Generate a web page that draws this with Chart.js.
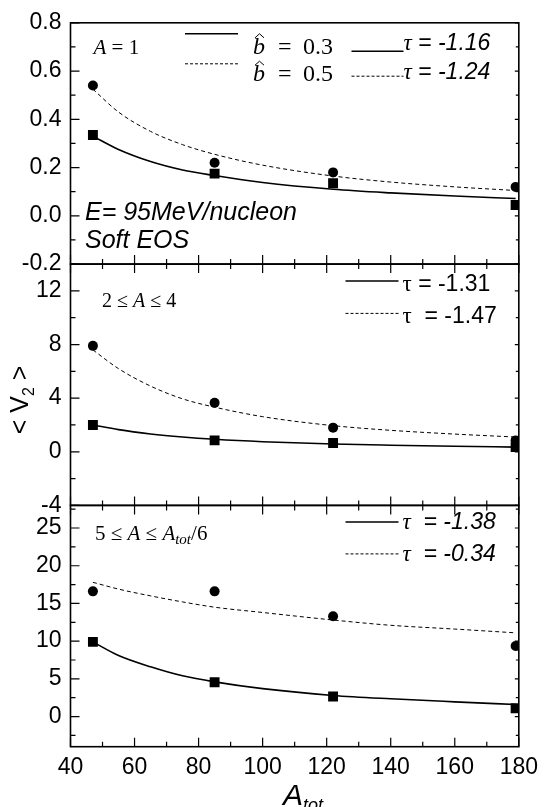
<!DOCTYPE html>
<html>
<head>
<meta charset="utf-8">
<title>V2 vs Atot</title>
<script src="https://cdn.jsdelivr.net/npm/chart.js"></script>
<style>
  html, body { margin: 0; padding: 0; background: #fff; }
  #wrap { position: relative; width: 545px; height: 807px; }
</style>
</head>
<body>
<div id="wrap"><canvas id="c" width="545" height="807"></canvas></div>
<script>
// A_tot of the four systems
const aTot = [47, 85, 122, 179];

// A = 1  (circles: b = 0.5, squares: b = 0.3)
const p1Circle = [0.54, 0.22, 0.18, 0.12];
const p1Square = [0.335, 0.175, 0.135, 0.045];
// 2 <= A <= 4
const p2Circle = [7.9, 3.65, 1.8, 0.85];
const p2Square = [2.0, 0.85, 0.65, 0.35];
// 5 <= A <= Atot/6
const p3Circle = [16.6, 16.6, 13.3, 9.35];
const p3Square = [9.9, 4.55, 2.65, 1.1];

// fit curves
const fitX = [47, 55, 65, 75, 85, 100, 122, 140, 160, 179];
const p1Solid = [0.33, 0.275, 0.225, 0.19, 0.167, 0.138, 0.11, 0.095, 0.082, 0.072];
const p1Dash = [0.525, 0.43, 0.35, 0.295, 0.255, 0.21, 0.165, 0.14, 0.12, 0.105];
const p2Solid = [2.0, 1.65, 1.33, 1.1, 0.93, 0.75, 0.58, 0.49, 0.41, 0.35];
const p2Dash = [7.6, 6.2, 4.9, 3.95, 3.33, 2.62, 1.95, 1.6, 1.32, 1.1];
const p3Solid = [9.9, 8.1, 6.6, 5.4, 4.6, 3.7, 2.8, 2.35, 1.95, 1.6];
const p3Dash = [17.8, 16.9, 16.0, 15.2, 14.5, 13.8, 12.8, 12.1, 11.6, 11.1];

// tick labels
const xTicks = [40, 60, 80, 100, 120, 140, 160, 180];
const y1Ticks = [-0.2, 0, 0.2, 0.4, 0.6, 0.8];
const y2Ticks = [-4, 0, 4, 8, 12];
const y3Ticks = [0, 5, 10, 15, 20, 25];

const ink = '#000';
const SANS = '"Liberation Sans", Arial, sans-serif';
const SERIF = '"Liberation Serif", "Times New Roman", serif';

const pts = (xs, ys) => xs.map((x, i) => ({ x: x, y: ys[i] }));

function panel(axis, circles, squares, solid, dashed) {
  return [
    { data: pts(aTot, circles), yAxisID: axis, showLine: false, pointStyle: 'circle',
      pointRadius: 5, backgroundColor: ink, borderColor: ink, borderWidth: 0 },
    { data: pts(aTot, squares), yAxisID: axis, showLine: false, pointStyle: 'rect',
      pointRadius: 7, backgroundColor: ink, borderColor: ink, borderWidth: 0 },
    { data: pts(fitX, solid), yAxisID: axis, borderColor: ink, borderWidth: 1.6,
      pointRadius: 0, fill: false, cubicInterpolationMode: 'monotone' },
    { data: pts(fitX, dashed), yAxisID: axis, borderColor: ink, borderWidth: 1,
      borderDash: [4, 3], pointRadius: 0, fill: false, cubicInterpolationMode: 'monotone' },
  ];
}

function yAxis(ticks, lo, hi, fmt) {
  return {
    type: 'linear', position: 'left', stack: 'v', stackWeight: 1, min: lo, max: hi,
    grid: { display: false, drawTicks: false }, border: { display: false },
    afterBuildTicks: s => { s.ticks = ticks.map(v => ({ value: v })); },
    afterFit: s => { s.width = 70.5; },
    ticks: { color: ink, padding: 9, autoSkip: false, font: { family: SANS, size: 23 },
      callback: fmt || (v => String(v)) },
  };
}

function minors(ticks, lo, hi) {
  const step = ticks[1] - ticks[0], out = [];
  for (let v = ticks[0] - step * 1.5; v <= hi + 1e-9; v += step) {
    if (v >= lo - 1e-9) out.push(v);
  }
  return out;
}

// box round each panel, with inward ticks
const frame = {
  id: 'frame',
  afterDatasetsDraw(chart) {
    const ctx = chart.ctx, xs = chart.scales.x;
    const seg = (a, b, c, d) => { ctx.moveTo(a, b); ctx.lineTo(c, d); };
    const xMinor = minors(xTicks, 40, 180);
    [['y1', y1Ticks], ['y2', y2Ticks], ['y3', y3Ticks]].forEach(([id, tk], k) => {
      const ys = chart.scales[id];
      ctx.save();
      ctx.strokeStyle = ink;
      ctx.lineWidth = 1.2;
      ctx.beginPath();
      tk.forEach(v => {
        const p = ys.getPixelForValue(v);
        seg(xs.left, p, xs.left + 9, p);
        seg(xs.right, p, xs.right - 4, p);
      });
      minors(tk, ys.min, ys.max).forEach(v => {
        const p = ys.getPixelForValue(v);
        seg(xs.left, p, xs.left + 5, p);
        seg(xs.right, p, xs.right - 3, p);
      });
      xTicks.forEach(v => {
        const p = xs.getPixelForValue(v);
        seg(p, ys.bottom, p, ys.bottom - 9);
        if (k > 0) seg(p, ys.top, p, ys.top + 9);
      });
      xMinor.forEach(v => {
        const p = xs.getPixelForValue(v);
        seg(p, ys.bottom, p, ys.bottom - 5);
        if (k > 0) seg(p, ys.top, p, ys.top + 5);
      });
      ctx.stroke();
      ctx.lineWidth = 1.6;
      ctx.strokeRect(xs.left, ys.top, xs.right - xs.left, ys.bottom - ys.top);
      ctx.restore();
    });
  }
};

function runs(ctx, x, y, parts) {
  for (const [t, font, dy] of parts) {
    ctx.font = font;
    ctx.fillText(t, x, y + (dy || 0));
    x += ctx.measureText(t).width;
  }
  return x;
}

function hline(ctx, x0, x1, y, dash, w) {
  ctx.save();
  ctx.strokeStyle = ink;
  ctx.lineWidth = w;
  ctx.setLineDash(dash || []);
  ctx.beginPath();
  ctx.moveTo(x0, y);
  ctx.lineTo(x1, y);
  ctx.stroke();
  ctx.restore();
}

function bhat(ctx, x, y, val) {
  ctx.font = `italic 24px ${SERIF}`;
  ctx.fillText('b', x, y);
  ctx.save();
  ctx.lineWidth = 1;
  ctx.strokeStyle = ink;
  ctx.beginPath();
  ctx.moveTo(x + 2, y - 16);
  ctx.lineTo(x + 6.5, y - 20);
  ctx.lineTo(x + 11, y - 16);
  ctx.stroke();
  ctx.restore();
  ctx.font = `24px ${SERIF}`;
  ctx.fillText('=', x + 25, y);
  ctx.fillText(val, x + 50, y);
}

const notes = {
  id: 'notes',
  afterDraw(chart) {
    const ctx = chart.ctx, L = chart.scales.x.left;
    const T1 = chart.scales.y1.top, T2 = chart.scales.y2.top, T3 = chart.scales.y3.top;
    ctx.save();
    ctx.fillStyle = ink;
    ctx.textBaseline = 'alphabetic';
    ctx.textAlign = 'left';

    // top panel
    runs(ctx, L + 23, T1 + 31.5, [['A', `italic 21px ${SERIF}`], [' = 1', `21px ${SERIF}`]]);
    hline(ctx, L + 114.5, L + 167.5, T1 + 11, null, 1.5);
    hline(ctx, L + 114.5, L + 167.5, T1 + 41, [3, 2], 1);
    bhat(ctx, L + 182.5, T1 + 31, '0.3');
    bhat(ctx, L + 182.5, T1 + 58.4, '0.5');
    hline(ctx, L + 281, L + 333, T1 + 28.4, null, 1.5);
    runs(ctx, L + 333, T1 + 26.7, [['τ', `italic 23px ${SERIF}`], [' = -1.16', `italic 23px ${SANS}`]]);
    hline(ctx, L + 281, L + 333, T1 + 53.4, [3, 2], 1);
    runs(ctx, L + 333, T1 + 55.7, [['τ', `italic 23px ${SERIF}`], [' = -1.24', `italic 23px ${SANS}`]]);
    ctx.font = `italic 25px ${SANS}`;
    ctx.fillText('E= 95MeV/nucleon', L + 14.5, T1 + 196.7);
    ctx.fillText('Soft EOS', L + 14.5, T1 + 224.7);

    // middle panel
    runs(ctx, L + 31.5, T2 + 43, [['2 ≤ ', `20px ${SERIF}`], ['A', `italic 20px ${SERIF}`], [' ≤ 4', `20px ${SERIF}`]]);
    hline(ctx, L + 275, L + 328, T2 + 17, null, 1.5);
    runs(ctx, L + 332, T2 + 27, [['τ', `23px ${SERIF}`], [' = -1.31', `23px ${SANS}`]]);
    hline(ctx, L + 275, L + 328, T2 + 49.3, [3, 2], 1);
    runs(ctx, L + 332, T2 + 59, [['τ', `23px ${SERIF}`], ['  = -1.47', `23px ${SANS}`]]);

    // bottom panel
    runs(ctx, L + 24.5, T3 + 35, [
      ['5 ≤ ', `21px ${SERIF}`], ['A', `italic 21px ${SERIF}`], [' ≤ ', `21px ${SERIF}`],
      ['A', `italic 21px ${SERIF}`], ['tot', `italic 15px ${SERIF}`, 4], ['/6', `21px ${SERIF}`]]);
    hline(ctx, L + 275, L + 328, T3 + 16.7, null, 1.5);
    runs(ctx, L + 332, T3 + 24, [['τ', `italic 23px ${SERIF}`], ['  = -1.38', `italic 23px ${SANS}`]]);
    hline(ctx, L + 275, L + 328, T3 + 48.5, [3, 2], 1);
    runs(ctx, L + 332, T3 + 56, [['τ', `italic 23px ${SERIF}`], ['  = -0.34', `italic 23px ${SANS}`]]);

    // axis titles
    runs(ctx, 283, 805, [['A', `italic 30px ${SANS}`], ['tot', `italic 18px ${SANS}`, 6]]);
    ctx.save();
    ctx.translate(28, 400);
    ctx.rotate(-Math.PI / 2);
    const parts = [['< ', `25px ${SANS}`], ['V', `25px ${SANS}`], ['2', `16px ${SANS}`, 6], [' >', `25px ${SANS}`]];
    let w = 0;
    parts.forEach(([t, f]) => { ctx.font = f; w += ctx.measureText(t).width; });
    runs(ctx, -w / 2, 0, parts);
    ctx.restore();

    ctx.restore();
  }
};

new Chart(document.getElementById('c'), {
  type: 'line',
  data: {
    datasets: [
      ...panel('y1', p1Circle, p1Square, p1Solid, p1Dash),
      ...panel('y2', p2Circle, p2Square, p2Solid, p2Dash),
      ...panel('y3', p3Circle, p3Square, p3Solid, p3Dash),
    ]
  },
  options: {
    responsive: false,
    animation: false,
    layout: { padding: { top: 18.3, right: 21, left: 0, bottom: 0 } },
    plugins: { legend: { display: false }, tooltip: { enabled: false }, title: { display: false } },
    scales: {
      x: {
        type: 'linear', min: 40, max: 180,
        grid: { display: false, drawTicks: false }, border: { display: false },
        afterBuildTicks: s => { s.ticks = xTicks.map(v => ({ value: v })); },
        afterFit: s => { s.height = 60.3; },
        ticks: { color: ink, padding: 7, autoSkip: false, maxRotation: 0, font: { family: SANS, size: 23 } },
      },
      y3: yAxis(y3Ticks, -4, 28),
      y2: yAxis(y2Ticks, -4, 14),
      y1: yAxis(y1Ticks, -0.2, 0.8, v => Number(v).toFixed(1)),
    }
  },
  plugins: [frame, notes]
});
</script>
</body>
</html>
